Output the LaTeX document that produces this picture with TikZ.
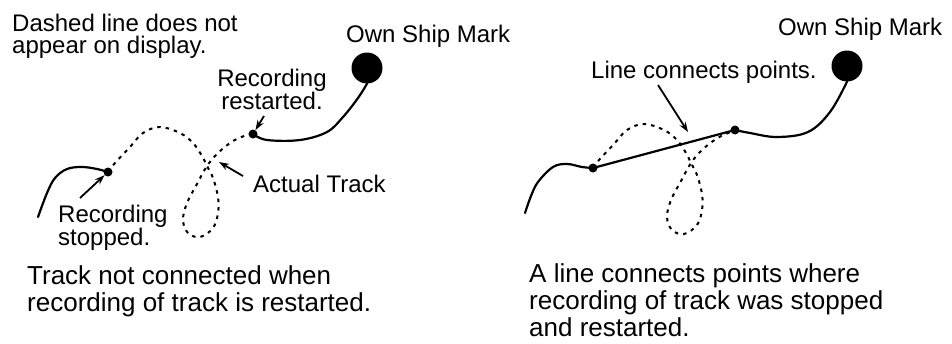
\documentclass[tikz,border=0pt]{standalone}
\usepackage{fontspec}
\setmainfont{Liberation Sans}
\usetikzlibrary{arrows.meta}
\tikzset{
  lbl/.style={inner sep=0pt, font=\fontsize{24}{22}\selectfont},
  captxt/.style={inner sep=0pt, align=left, font=\fontsize{26}{27}\selectfont},
  solidtrack/.style={line width=2.2pt, line cap=round, line join=round},
  dashtrack/.style={line width=2pt, dash pattern=on 3.5pt off 5pt},
  dot/.style={circle, fill=black, inner sep=0pt, minimum size=9pt},
  ship/.style={circle, fill=black, inner sep=0pt, minimum size=31pt},
  arr/.style={line width=1.8pt, -{Stealth[length=10pt,width=7pt]}}
}
\begin{document}
\begin{tikzpicture}[x=1pt,y=-1pt]
\useasboundingbox (0,0) rectangle (952,343);

% ---------------- left panel ----------------
\node[lbl, align=left, anchor=north west] (dashnote) at (12,13.5) {Dashed line does not\\appear on display.};
\node[lbl, anchor=base west] (own1) at (346,42) {Own Ship Mark};
\node[ship] (ship1) at (367,68) {};
\node[dot] (sd1) at (108,172) {};
\node[dot] (rd1) at (253,134) {};
\node[lbl, align=center, anchor=north] (restart) at (272,68.5) {Recording\\restarted.};
\node[lbl, align=left, anchor=north west] (stopped) at (58,204.5) {Recording\\stopped.};
\node[lbl, anchor=base west] (actual) at (253,192) {Actual Track};

\draw[solidtrack] plot[smooth, tension=0.6] coordinates {(38,217) (47,193) (55,178) (67,169) (82,167) (97,169) (sd1.center)};
\draw[solidtrack] plot[smooth, tension=0.6] coordinates {(rd1.center) (267,140) (300,140) (327,132) (343,117) (358,98) (ship1.south)};
\draw[dashtrack] plot[smooth, tension=0.6] coordinates {(sd1.center) (115,163) (130,147) (143,133) (160,127) (180,133) (193,143) (202,156) (207,166) (213,178) (218,197) (218,213) (213,228) (200,237) (188,233) (183,220) (187,203) (197,184) (207,166) (218,153) (233,141) (247,135) (rd1.center)};

\coordinate (a1s) at (80,198);
\coordinate (a2s) at (264,116);
\coordinate (a3s) at (243,176);
\coordinate (a3e) at (219,162);
\draw[arr] (a1s) -- (sd1);
\draw[arr] (a2s) -- (rd1);
\draw[arr] (a3s) -- (a3e);

\node[captxt, anchor=north west] (cap1) at (27,265.5) {Track not connected when\\recording of track is restarted.};

% ---------------- right panel ----------------
\node[lbl, anchor=base west] (own2) at (778,35) {Own Ship Mark};
\node[ship] (ship2) at (847,66) {};
\node[dot] (sd2) at (593,168) {};
\node[dot] (rd2) at (735,130) {};
\node[lbl, anchor=base west] (linenote) at (591,78) {Line connects points.};

\draw[solidtrack] plot[smooth, tension=0.6] coordinates {(525,213) (531,196) (538,182) (553,167) (567,164) (582,167) (sd2.center)};
\draw[solidtrack] plot[smooth, tension=0.6] coordinates {(rd2.center) (750,133) (777,137) (808,132) (830,112) (ship2.south)};
\draw[dashtrack] plot[smooth, tension=0.6] coordinates {(sd2.center) (599,160) (614,144) (627,130) (644,124) (664,130) (677,140) (686,153) (691,163) (697,175) (702,194) (702,210) (697,225) (684,234) (672,230) (667,217) (671,200) (681,181) (691,163) (702,150) (716,139) (728,133) (rd2.center)};
\draw[solidtrack] (sd2.center) -- (rd2.center);

\coordinate (a4s) at (658,85);
\coordinate (a4e) at (688,132);
\draw[arr] (a4s) -- (a4e);

\node[captxt, anchor=north west] (cap2) at (529,263.5) {A line connects points where\\recording of track was stopped\\and restarted.};
\end{tikzpicture}
\end{document}
